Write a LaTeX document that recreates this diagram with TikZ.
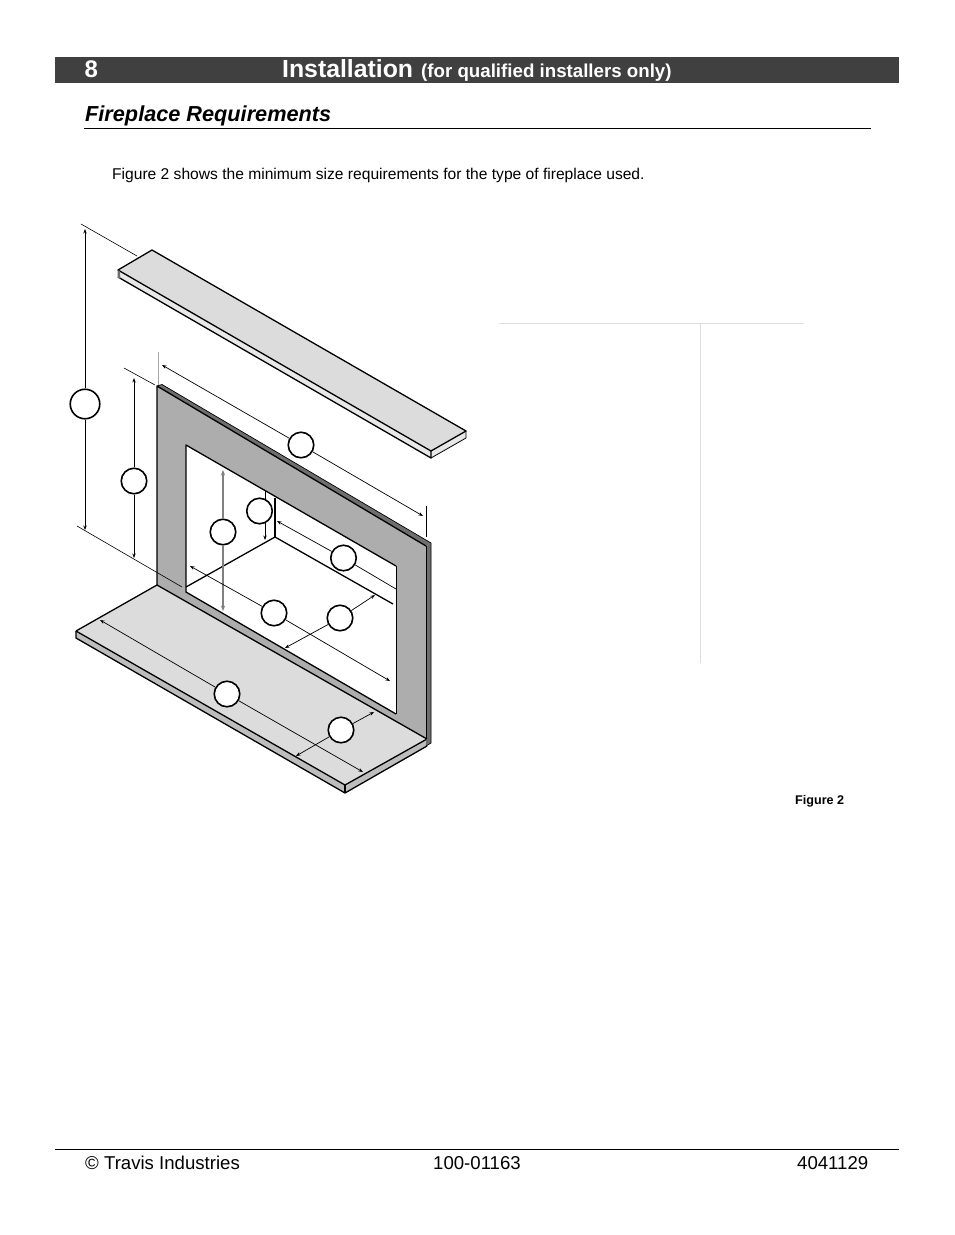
\documentclass[tikz,border=0pt]{standalone}
\usepackage{fontspec}
\setmainfont{Liberation Sans}
\usetikzlibrary{arrows.meta}
\definecolor{barcol}{HTML}{404040}
\definecolor{facecol}{HTML}{DCDCDC}
\definecolor{framecol}{HTML}{ADADAD}
\definecolor{stripcol}{HTML}{6E6E6E}
\definecolor{sidecol}{HTML}{BDBDBD}
\definecolor{lipcol}{HTML}{E8E8E8}
\definecolor{rulecol}{HTML}{DDDDDD}
\tikzset{
  edgeline/.style={draw=black,line width=1.3pt,line join=round},
  dimline/.style={line width=0.7pt,>={Stealth[length=4.5pt,width=3.4pt]}},
  dimheavy/.style={line width=0.85pt,>={Stealth[length=4.5pt,width=3.4pt]}},
  dimgray/.style={draw=black!50,line width=1.1pt,>={Stealth[length=5.5pt,width=4.2pt]}},
  dimcirc/.style={circle,draw=black,fill=white,line width=1.6pt,inner sep=0pt,minimum size=25.5pt},
  txt/.style={anchor=base west,inner sep=0pt}
}
\begin{document}
\begin{tikzpicture}[x=1pt,y=-1pt]
\useasboundingbox (0,0) rectangle (954,1235);
% header
\fill[barcol] (55,57) rectangle (899,83);
\node[txt,text=white] (pagenum) at (84.5,77) {\fontsize{24}{24}\selectfont\bfseries 8};
\node[txt,text=white] (title) at (282,77) {\fontsize{24.8}{24.8}\selectfont\bfseries Installation};
\node[txt,text=white] (subtitle) at (421,77) {\fontsize{18.7}{18.7}\selectfont\bfseries (for qualified installers only)};
\node[txt] (heading) at (85,121) {\fontsize{21.7}{21.7}\selectfont\bfseries\itshape Fireplace Requirements};
\draw[line width=0.9pt] (84,128.5) -- (871,128.5);
\node[txt] (intro) at (112,179) {\fontsize{15.6}{15.6}\selectfont Figure 2 shows the minimum size requirements for the type of fireplace used.};
% empty table
\draw[rulecol,line width=0.8pt] (499,323.5) -- (804,323.5);
\draw[rulecol,line width=0.8pt] (700.5,323) -- (700.5,663);
% mantel
\fill[facecol] (152,250) -- (466,431) -- (431,451) -- (118,270) -- cycle;
\fill[lipcol] (118,270) -- (431,451) -- (431,458) -- (118,277) -- cycle;
\fill[lipcol] (431,451) -- (466,431) -- (466,438) -- (431,458) -- cycle;
\draw[edgeline] (118,270) -- (152,250) -- (466,431) -- (431,451) -- cycle;
\draw[edgeline] (118,277) -- (431,458) -- (431,451);
\draw[line width=0.8pt] (431,458) -- (466,438) -- (466,431);
\fill[stripcol] (117.5,270) -- (117.5,277.5) -- (120,279) -- (120,271.5) -- cycle;
% hearth
\fill[facecol] (157,585) -- (427,739) -- (345,785) -- (76,631) -- cycle;
\fill[sidecol] (76,631) -- (345,785) -- (345,793) -- (76,638) -- cycle;
\fill[sidecol] (345,785) -- (427,739) -- (427,746) -- (345,793) -- cycle;
\draw[edgeline] (76,631) -- (157,585);
\draw[edgeline] (76,631) -- (345,785) -- (427,739);
\draw[edgeline] (76,631) -- (76,638) -- (345,793) -- (427,746);
\draw[edgeline] (345,785) -- (345,793);
% frame
\fill[framecol] (157,386) -- (426,546) -- (426,739) -- (157,585) -- cycle;
\fill[stripcol] (157,386) -- (162,384.5) -- (431,543) -- (426,546) -- cycle;
\fill[stripcol] (426,546) -- (431,543) -- (431,743) -- (426,746) -- cycle;
\fill[white] (186,445) -- (396,566) -- (396,714) -- (186,592) -- cycle;
\draw[edgeline] (157,585) -- (157,386) -- (426,546);
\draw[line width=0.7pt] (162,384.5) -- (431,543) -- (431,743) -- (426,746);
\draw[line width=0.7pt] (157,386) -- (162,384.5);
\draw[line width=0.8pt] (426,546) -- (426,739);
\draw[edgeline] (157,585) -- (427,739);
\draw[edgeline] (396,566) -- (186,445) -- (186,592) -- (396,714);
\draw[line width=0.8pt] (396,566) -- (396,714);
% firebox lines
\coordinate (backtop) at (275,498);
\coordinate (backcorner) at (275,537);
\coordinate (floorleft) at (186,587);
\coordinate (floorright) at (393,604);
\draw[edgeline] (backtop) -- (backcorner);
\draw[edgeline] (floorleft) -- (backcorner) -- (floorright);
% dimension ends
\coordinate (ovrtop) at (85,229);
\coordinate (ovrbot) at (85,530);
\coordinate (hgttop) at (134,378);
\coordinate (hgtbot) at (134,558);
\coordinate (widl) at (162,365);
\coordinate (widr) at (423,516);
\coordinate (opnhtop) at (223,470);
\coordinate (opnhbot) at (223,611);
\coordinate (bxhtop) at (265,491);
\coordinate (bxhbot) at (265,540);
\coordinate (bkwl) at (277,521);
\coordinate (bkwr) at (396,589);
\coordinate (opnwl) at (190,566);
\coordinate (opnwr) at (390,681);
\coordinate (depl) at (285,648);
\coordinate (depr) at (375,595);
\coordinate (hthwl) at (100,620);
\coordinate (hthwr) at (363,772);
\coordinate (hthdl) at (296,756);
\coordinate (hthdr) at (374,712);
% extension lines
\draw[line width=0.6pt] (81,224) -- (137,256);
\draw[line width=0.6pt] (77,526) -- (182,587);
\draw[line width=0.6pt] (124,368) -- (155,385);
\draw[black!35,line width=1pt] (158,352) -- (158,385);
\draw[line width=0.6pt] (426,506) -- (426,537);
\draw[dimheavy,->] (bxhtop) -- (bxhbot);
% circles
\node[dimcirc,minimum size=29.5pt] (ovrc) at (85,404) {};
\foreach \name/\px/\py in {hgtc/134/481,widc/301/445,opnhc/223/532,bxhc/259.5/511,bkwc/343.5/558,opnwc/274/613,depc/340/618,hthwc/227/694,hthdc/341/730}
  \node[dimcirc] (\name) at (\px,\py) {};
% dimension lines
\draw[dimheavy,->] (ovrc) -- (ovrtop);
\draw[dimheavy,->] (ovrc) -- (ovrbot);
\draw[dimheavy,->] (hgtc) -- (hgttop);
\draw[dimheavy,->] (hgtc) -- (hgtbot);
\draw[dimline,->] (widc) -- (widl);
\draw[dimline,->] (widc) -- (widr);
\draw[dimgray,->] (opnhc) -- (opnhtop);
\draw[dimgray,->] (opnhc) -- (opnhbot);
\draw[dimline,->] (bkwc) -- (bkwl);
\draw[dimline] (bkwc) -- (bkwr);
\draw[dimline,->] (opnwc) -- (opnwl);
\draw[dimline,->] (opnwc) -- (opnwr);
\draw[dimline,->] (depc) -- (depl);
\draw[dimline,->] (depc) -- (depr);
\draw[dimline,->] (hthwc) -- (hthwl);
\draw[dimline,->] (hthwc) -- (hthwr);
\draw[dimline,->] (hthdc) -- (hthdl);
\draw[dimline,->] (hthdc) -- (hthdr);
% caption and footer
\node[txt] (figcap) at (795,804) {\fontsize{12.6}{12.6}\selectfont\bfseries Figure 2};
\draw[line width=0.9pt] (55,1149) -- (899,1149);
\node[txt] (footl) at (85,1169) {\fontsize{18.6}{18.6}\selectfont © Travis Industries};
\node[txt] (footm) at (433,1169) {\fontsize{18.6}{18.6}\selectfont 100-01163};
\node[txt] (footr) at (797,1169) {\fontsize{18.6}{18.6}\selectfont 4041129};
\end{tikzpicture}
\end{document}
